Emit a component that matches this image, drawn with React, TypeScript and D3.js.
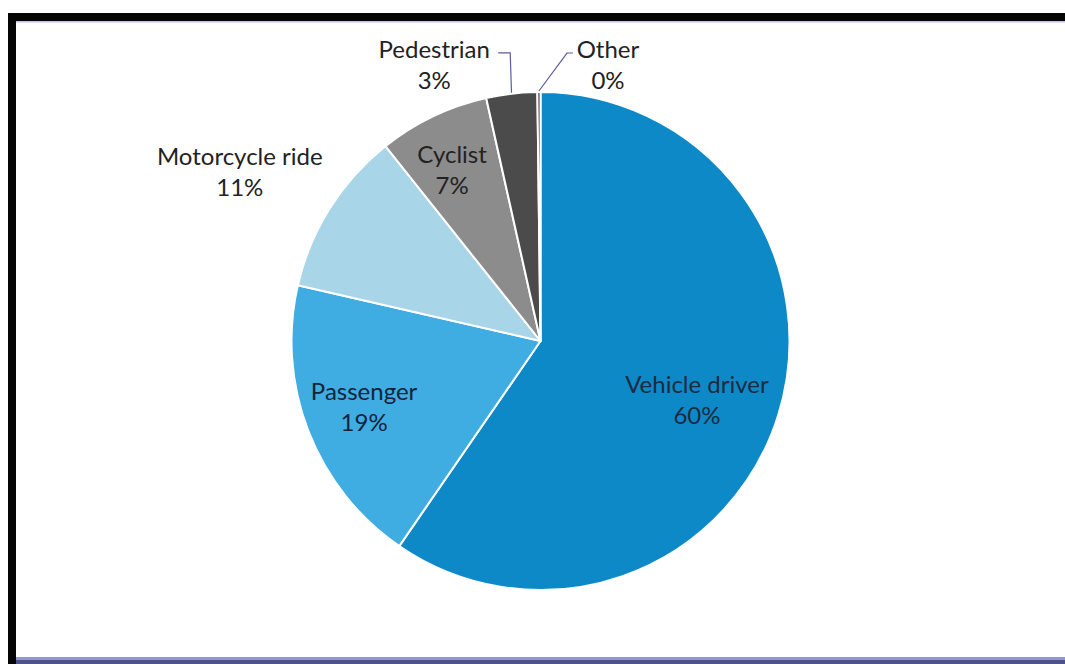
import React from "react";
import * as d3 from "d3";

const categories = ["Vehicle driver", "Passenger", "Motorcycle ride", "Cyclist", "Pedestrian", "Other"];
const values = [59.6, 19.0, 10.7, 7.2, 3.3, 0.2];
const percentLabels = ["60%", "19%", "11%", "7%", "3%", "0%"];
const colors = ["#0e89c8", "#40ade2", "#a8d6e8", "#8c8c8c", "#4b4b4b", "#2b2b2b"];
const textColors = ["#1b2b40", "#14233a", "#222222", "#222222", "#222222", "#222222"];

const W = 1065;
const H = 664;
const cx = 540.5;
const cy = 341;
const R = 249;

// label placement: radius factor and angle shift (degrees) from the slice mid-angle
const labelRadius = [0.672, 0.757, 1.385, 0.773, 1.188, 1.141];
const labelAngleShift = [3.5, 0.6, -2.9, -1.8, -14.4, 14.1];

export default function App() {
  const pie = d3.pie<number>().sort(null).value((d) => d);
  const arcs = pie(values);
  const arcGen = d3.arc<d3.PieArcDatum<number>>().innerRadius(0).outerRadius(R);

  const labels = arcs.map((a, i) => {
    const mid = (a.startAngle + a.endAngle) / 2 + (labelAngleShift[i] * Math.PI) / 180;
    const r = R * labelRadius[i];
    return { x: Math.sin(mid) * r, y: -Math.cos(mid) * r };
  });

  const leader = (i: number) => {
    const a = arcs[i];
    const mid = (a.startAngle + a.endAngle) / 2;
    const px = Math.sin(mid) * (R + 1);
    const py = -Math.cos(mid) * (R + 1);
    const l = labels[i];
    const ly = l.y - 12;
    if (i === 4) {
      return `M${l.x + 64},${ly}L${l.x + 76},${ly}L${px},${py}`;
    }
    return `M${l.x - 35},${ly}L${l.x - 41},${ly}L${px},${py}`;
  };

  return (
    <svg
      width={W}
      height={H}
      style={{ position: "absolute", left: 0, top: 0, background: "#ffffff" }}
      fontFamily="Lato, 'Open Sans', sans-serif"
    >
      <rect x={0} y={0} width={W} height={H} fill="#ffffff" />
      {/* frame */}
      <rect x={8} y={13} width={W - 8} height={8} fill="#050505" />
      <rect x={8} y={13} width={8} height={H - 13} fill="#050505" />
      <rect x={16} y={21} width={W - 16} height={1.5} fill="#8c86c4" opacity={0.5} />
      <rect x={16} y={657} width={W - 16} height={3} fill="#9597cc" />
      <rect x={16} y={660} width={W - 16} height={4} fill="#50528e" />

      <g transform={`translate(${cx},${cy})`}>
        {arcs.map((a, i) => (
          <path key={categories[i]} d={arcGen(a) || ""} fill={colors[i]} stroke="#ffffff" strokeWidth={2} strokeLinejoin="round" />
        ))}
        {[4, 5].map((i) => (
          <path key={"ll" + i} d={leader(i)} fill="none" stroke="#5a5c9e" strokeWidth={1.2} />
        ))}
        {labels.map((l, i) => (
          <text key={"t" + i} x={l.x} y={l.y} textAnchor="middle" fontSize={24} fill={textColors[i]}>
            <tspan x={l.x} dy={-7}>{categories[i]}</tspan>
            <tspan x={l.x} dy={31}>{percentLabels[i]}</tspan>
          </text>
        ))}
      </g>
    </svg>
  );
}
